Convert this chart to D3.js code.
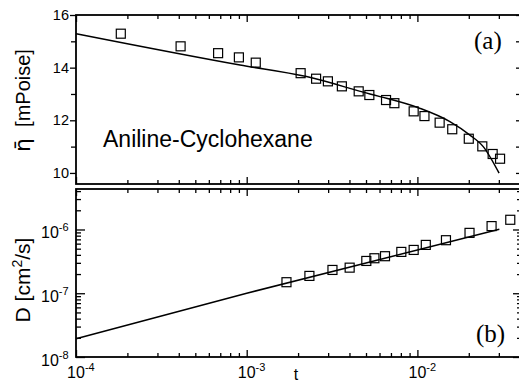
<!DOCTYPE html>
<html><head><meta charset="utf-8">
<script src="https://cdn.jsdelivr.net/npm/d3@7"></script>
<style>body{margin:0;background:#fff;} svg{display:block;}</style>
</head><body>
<div id="chart"></div>
<script>
// ---- data ----
const etaT   = [1.83e-4,4.1e-4,6.8e-4,9.0e-4,1.13e-3,2.07e-3,2.55e-3,2.99e-3,3.61e-3,4.53e-3,5.23e-3,6.55e-3,7.33e-3,9.51e-3,1.10e-2,1.35e-2,1.60e-2,2.00e-2,2.40e-2,2.76e-2,3.05e-2];
const etaVal = [15.29,14.81,14.55,14.39,14.19,13.79,13.58,13.48,13.29,13.10,12.96,12.77,12.65,12.34,12.16,11.91,11.66,11.30,11.01,10.72,10.54];
const etaFitT   = [1e-4,9.14e-4,2.24e-3,5.27e-3,6.04e-3,1.03e-2,1.55e-2,2.03e-2,2.43e-2,3.01e-2];
const etaFitVal = [15.29,14.10,13.66,13.00,12.90,12.46,11.95,11.44,11.00,9.99];
const dT   = [1.71e-3,2.33e-3,3.18e-3,4.01e-3,5.02e-3,5.60e-3,6.46e-3,8.05e-3,9.51e-3,1.12e-2,1.47e-2,2.02e-2,2.72e-2,3.50e-2];
const dVal = [1.49e-7,1.87e-7,2.32e-7,2.52e-7,3.21e-7,3.54e-7,3.81e-7,4.45e-7,4.78e-7,5.73e-7,6.79e-7,8.85e-7,1.13e-6,1.42e-6];
const dFitT   = [1e-4,1e-3,3.02e-2];
const dFitVal = [1.94e-8,1.0e-7,1.01e-6];
const xDecades = [1e-4,1e-3,1e-2];
const xExps = ["-4","-3","-2"];
const etaTicks = [10,12,14,16];
const etaMinor = [11,13,15];
const dDecades = [1e-8,1e-7,1e-6];
const dExps = ["-8","-7","-6"];

const W = 519, H = 383;
const L = 76, R = 522;
const svg = d3.select("#chart").append("svg").attr("width", W).attr("height", H)
  .style("font-family", "'Liberation Sans', Arial, sans-serif");

const x = d3.scaleLog().domain([1e-4, 4.1e-2]).range([L, R]);
const yTop = d3.scaleLinear().domain([9.58, 16]).range([184, 15]);
const yBot = d3.scaleLog().domain([1e-8, Math.pow(10, -5.365)]).range([357, 189]);

function logMinor(lo, hi) {
  const out = [];
  for (let e = Math.floor(Math.log10(lo)); e <= Math.ceil(Math.log10(hi)); e++) {
    for (let m = 2; m <= 9; m++) { const v = m * Math.pow(10, e); if (v >= lo && v <= hi) out.push(v); }
  }
  return out;
}
const xMinor = logMinor(1e-4, 4.1e-2);
const dMinor = logMinor(1e-8, Math.pow(10, -5.365));

function ax(g, axis) { g.call(axis); g.select(".domain").remove(); g.selectAll("line").attr("stroke", "#000").attr("stroke-width", 1.3); g.selectAll("text").remove(); return g; }

// ---- top panel axes ----
ax(svg.append("g").attr("transform", "translate(0,15)"), d3.axisTop(x).tickValues(xDecades).tickSize(-7));
ax(svg.append("g").attr("transform", "translate(0,15)"), d3.axisTop(x).tickValues(xMinor).tickSize(-4));
ax(svg.append("g").attr("transform", "translate(0,184)"), d3.axisBottom(x).tickValues(xDecades).tickSize(-7));
ax(svg.append("g").attr("transform", "translate(0,184)"), d3.axisBottom(x).tickValues(xMinor).tickSize(-4));
ax(svg.append("g").attr("transform", `translate(${L},0)`), d3.axisLeft(yTop).tickValues(etaTicks).tickSize(6));
ax(svg.append("g").attr("transform", `translate(${L},0)`), d3.axisLeft(yTop).tickValues(etaMinor).tickSize(5));
ax(svg.append("g").attr("transform", `translate(${R},0)`), d3.axisRight(yTop).tickValues(etaTicks.concat(etaMinor)).tickSize(-6));

// ---- bottom panel axes ----
ax(svg.append("g").attr("transform", "translate(0,189)"), d3.axisTop(x).tickValues(xDecades).tickSize(-7));
ax(svg.append("g").attr("transform", "translate(0,189)"), d3.axisTop(x).tickValues(xMinor).tickSize(-4));
ax(svg.append("g").attr("transform", "translate(0,357)"), d3.axisBottom(x).tickValues(xDecades).tickSize(-7));
ax(svg.append("g").attr("transform", "translate(0,357)"), d3.axisBottom(x).tickValues(xMinor).tickSize(-4));
ax(svg.append("g").attr("transform", `translate(${L},0)`), d3.axisLeft(yBot).tickValues(dDecades).tickSize(-9));
ax(svg.append("g").attr("transform", `translate(${L},0)`), d3.axisLeft(yBot).tickValues(dMinor).tickSize(-5));
ax(svg.append("g").attr("transform", `translate(${R},0)`), d3.axisRight(yBot).tickValues(dDecades).tickSize(-9));
ax(svg.append("g").attr("transform", `translate(${R},0)`), d3.axisRight(yBot).tickValues(dMinor).tickSize(-5));

[[15,184],[189,357]].forEach(([t,b]) => {
  svg.append("rect").attr("x", L).attr("y", t).attr("width", R - L).attr("height", b - t)
    .attr("fill", "none").attr("stroke", "#000").attr("stroke-width", 1.8);
});

// ---- tick labels ----
svg.append("g").selectAll("text").data(etaTicks).join("text")
  .attr("x", 69).attr("y", d => yTop(d) + 5).attr("text-anchor", "end")
  .attr("font-size", 14.5).text(d => d);

function pow10Label(g, xPos, yPos, exp, centerBase) {
  const t = g.append("text").attr("font-size", 16).attr("y", yPos);
  t.append("tspan").text("10");
  t.append("tspan").attr("font-size", 11).attr("dy", -7).text(exp);
  const bw = 17.8;
  t.attr("x", centerBase ? xPos - bw / 2 : xPos);
  return t;
}
const xl = svg.append("g");
xDecades.forEach((d, i) => pow10Label(xl, x(d), 378, xExps[i], true));
const dl = svg.append("g");
dDecades.forEach((d, i) => pow10Label(dl, 41, yBot(d) + 9, dExps[i], false));

// axis titles
svg.append("text").attr("x", 296).attr("y", 380).attr("text-anchor", "middle").attr("font-size", 16).text("t");
svg.append("text").attr("transform", "translate(30,88) rotate(-90)").attr("text-anchor", "middle")
  .attr("font-size", 20).text("[mPoise]");
svg.append("text").attr("transform", "translate(30,145) rotate(-90)").attr("text-anchor", "middle")
  .attr("font-size", 22).style("font-family", "'DejaVu Sans', sans-serif").text("\u03B7\u0304");
const dt = svg.append("text").attr("transform", "translate(30,280) rotate(-90)").attr("text-anchor", "middle")
  .attr("font-size", 21);
dt.append("tspan").text("D [cm");
dt.append("tspan").attr("font-size", 14).attr("dy", -8).text("2");
dt.append("tspan").attr("dy", 8).text("/s]");

svg.append("text").attr("x", 103).attr("y", 147).attr("font-size", 23).text("Aniline-Cyclohexane");
svg.append("text").attr("x", 474).attr("y", 49).attr("font-size", 25)
  .style("font-family", "'Liberation Serif', 'Times New Roman', serif").text("(a)");
svg.append("text").attr("x", 476).attr("y", 342).attr("font-size", 25)
  .style("font-family", "'Liberation Serif', 'Times New Roman', serif").text("(b)");

// ---- fits ----
svg.append("path").datum(etaFitT.map((t, i) => [t, etaFitVal[i]]))
  .attr("fill", "none").attr("stroke", "#000").attr("stroke-width", 1.5)
  .attr("d", d3.line().x(d => x(d[0])).y(d => yTop(d[1])).curve(d3.curveMonotoneX));
svg.append("path").datum(dFitT.map((t, i) => [t, dFitVal[i]]))
  .attr("fill", "none").attr("stroke", "#000").attr("stroke-width", 1.5)
  .attr("d", d3.line().x(d => x(d[0])).y(d => yBot(d[1])));

// ---- markers ----
const S = 9;
svg.append("g").selectAll("rect").data(etaT.map((t, i) => [t, etaVal[i]])).join("rect")
  .attr("x", d => x(d[0]) - S / 2).attr("y", d => yTop(d[1]) - S / 2)
  .attr("width", S).attr("height", S).attr("fill", "none").attr("stroke", "#000").attr("stroke-width", 1.2);
svg.append("g").selectAll("rect").data(dT.map((t, i) => [t, dVal[i]])).join("rect")
  .attr("x", d => x(d[0]) - S / 2).attr("y", d => yBot(d[1]) - S / 2)
  .attr("width", S).attr("height", S).attr("fill", "none").attr("stroke", "#000").attr("stroke-width", 1.2);
</script>
</body></html>
